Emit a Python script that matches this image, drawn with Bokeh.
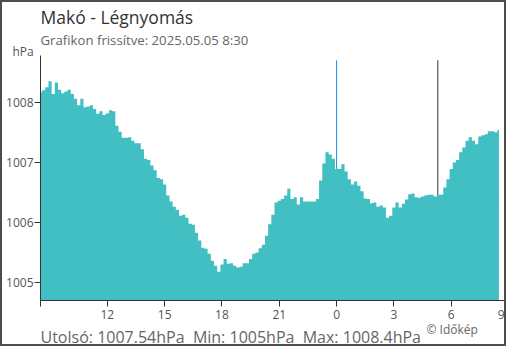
from bokeh.plotting import figure
from bokeh.models import FixedTicker, Range1d, Title
from bokeh.embed import file_html
from bokeh.resources import INLINE

title = "Makó - Légnyomás"
subtitle = "Grafikon frissítve: 2025.05.05 8:30"
unit = "hPa"
footer = "Utolsó: 1007.54hPa \u00a0Min: 1005hPa \u00a0Max: 1008.4hPa"
credit = "© Időkép"

start_hour = -15.5          # 8:30 previous day, hours relative to midnight
step_hours = 1.0 / 6.0      # 10-minute readings
pressure = [
    1008.17, 1008.20, 1008.25, 1008.35, 1008.14, 1008.33, 1008.21, 1008.15, 1008.18, 1008.21,
    1008.14, 1008.06, 1007.95, 1008.06, 1007.92, 1007.93, 1007.95, 1007.89, 1007.81, 1007.85,
    1007.79, 1007.82, 1007.87, 1007.85, 1007.61, 1007.51, 1007.41, 1007.41, 1007.42, 1007.36,
    1007.32, 1007.32, 1007.22, 1007.06, 1007.04, 1006.95, 1006.87, 1006.74, 1006.72, 1006.63,
    1006.45, 1006.35, 1006.26, 1006.21, 1006.11, 1006.13, 1006.08, 1005.98, 1005.96, 1005.83,
    1005.70, 1005.58, 1005.56, 1005.48, 1005.36, 1005.28, 1005.18, 1005.30, 1005.39, 1005.31,
    1005.32, 1005.28, 1005.25, 1005.26, 1005.32, 1005.32, 1005.39, 1005.48, 1005.50, 1005.57,
    1005.63, 1005.78, 1005.97, 1006.13, 1006.33, 1006.36, 1006.39, 1006.45, 1006.56, 1006.39,
    1006.42, 1006.30, 1006.42, 1006.35, 1006.35, 1006.35, 1006.35, 1006.39, 1006.70, 1006.98,
    1007.17, 1007.13, 1007.06, 1006.89, 1006.89, 1006.97, 1006.85, 1006.72, 1006.63, 1006.68,
    1006.61, 1006.52, 1006.40, 1006.39, 1006.32, 1006.33, 1006.26, 1006.28, 1006.25, 1006.08,
    1006.11, 1006.25, 1006.33, 1006.25, 1006.31, 1006.38, 1006.47, 1006.48, 1006.42, 1006.41,
    1006.43, 1006.45, 1006.46, 1006.46, 1006.43, 1006.46, 1006.46, 1006.58, 1006.72, 1006.89,
    1007.00, 1007.04, 1007.17, 1007.25, 1007.36, 1007.42, 1007.36, 1007.30, 1007.43, 1007.45,
    1007.47, 1007.52, 1007.52, 1007.50, 1007.54,
]
hours = [start_hour + i * step_hours for i in range(len(pressure))]

x_ticks = [-15.5, -12, -9, -6, -3, 0, 3, 6, 9]
x_tick_labels = ["", "12", "15", "18", "21", "0", "3", "6", "9"]
y_ticks = [1005, 1006, 1007, 1008]
midnight = 0.0
sunrise = 5.3

x_min, x_max = -15.5, 9.0
y_min, y_max = 1004.7, 1008.78
base = y_min - 1

p = figure(width=506, height=346, output_backend="svg", toolbar_location=None,
           x_range=Range1d(x_min, x_max), y_range=Range1d(y_min, y_max),
           min_border_left=38, min_border_right=0, min_border_top=53, min_border_bottom=48)
p.styles = {"border": "2px solid #4d4d4d"}
p.outline_line_color = None
p.grid.visible = False
p.background_fill_color = "white"
p.border_fill_color = "white"

p.segment(x0=[midnight], x1=[midnight], y0=[1008.7], y1=[base], line_color="#1f8fe5", line_width=1)
p.segment(x0=[sunrise], x1=[sunrise], y0=[1008.7], y1=[base], line_color="#333333", line_width=1)

p.varea_step(x=hours, y1=[base] * len(pressure), y2=pressure, step_mode="center",
             fill_color="#41bfc2")

xa = p.xaxis[0]
xa.ticker = FixedTicker(ticks=x_ticks)
xa.major_label_overrides = {t: l for t, l in zip(x_ticks, x_tick_labels)}
xa.minor_tick_line_color = None
xa.major_tick_in = 0
xa.major_tick_out = 6
xa.axis_line_color = "#333333"
xa.major_tick_line_color = "#333333"
xa.major_label_text_font = "Open Sans"
xa.major_label_text_font_size = "12px"
xa.major_label_text_color = "#555555"
xa.major_label_standoff = 3

ya = p.yaxis[0]
ya.ticker = FixedTicker(ticks=y_ticks)
ya.minor_tick_line_color = None
ya.major_tick_in = 0
ya.major_tick_out = 6
ya.axis_line_color = "#333333"
ya.major_tick_line_color = "#333333"
ya.major_label_text_font = "Open Sans"
ya.major_label_text_font_size = "12px"
ya.major_label_text_color = "#555555"
ya.major_label_standoff = 1

def title_obj(txt, size, color, offset, standoff, valign="bottom"):
    return Title(text=txt, align="left", offset=offset, standoff=standoff,
                 vertical_align=valign,
                 text_font="Open Sans", text_font_size=size,
                 text_font_style="normal", text_color=color)

# titles above: first added sits nearest to the plot frame
p.add_layout(title_obj(unit, "12px", "#555555", -28, -8), "above")
p.add_layout(title_obj(subtitle, "13.2px", "#666666", 0, -8), "above")
p.add_layout(title_obj(title, "17.5px", "#333333", 0, 4, "top"), "above")
# below the x axis: credit first, then the footer pulled onto the same line
p.add_layout(title_obj(credit, "12px", "#666666", 386, -6), "below")
p.add_layout(title_obj(footer, "16px", "#666666", 0, -22), "below")

open("out.html", "w").write(file_html(p, INLINE))
